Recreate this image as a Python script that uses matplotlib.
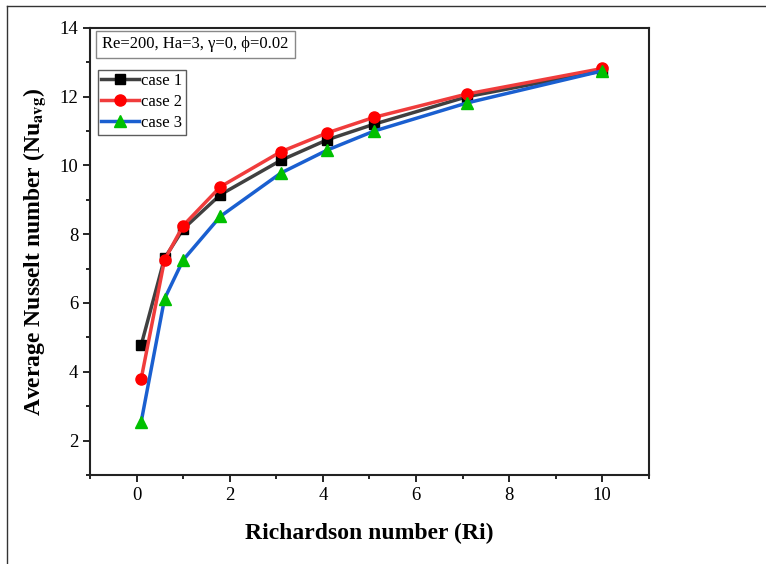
import matplotlib
matplotlib.use("Agg")
import matplotlib.pyplot as plt
from matplotlib.lines import Line2D
from matplotlib.ticker import MultipleLocator

plt.rcParams['font.family'] = ['Liberation Serif', 'DejaVu Serif']
plt.rcParams['mathtext.fontset'] = 'stix'

# Richardson number values
ri = [0.1, 0.6, 1.0, 1.8, 3.1, 4.1, 5.1, 7.1, 10.0]

# average Nusselt number per case
case1 = [4.78, 7.30, 8.15, 9.15, 10.15, 10.75, 11.20, 12.00, 12.75]
case2 = [3.80, 7.25, 8.25, 9.38, 10.40, 10.95, 11.40, 12.08, 12.82]
case3 = [2.55, 6.12, 7.25, 8.52, 9.78, 10.45, 11.00, 11.82, 12.75]

labels = ['case 1', 'case 2', 'case 3']
info_text = 'Re=200, Ha=3, \u03b3=0, \u03d5=0.02'

fig = plt.figure(figsize=(7.66, 5.64), dpi=100)
ax = fig.add_axes([0.1175, 0.158, 0.7295, 0.7925])

ax.plot(ri, case1, color='#404040', lw=2.5, marker='s', ms=7,
        mfc='black', mec='black', label=labels[0])
ax.plot(ri, case2, color='#f03c3c', lw=2.5, marker='o', ms=8,
        mfc='#ff0000', mec='#ff0000', label=labels[1])
ax.plot(ri, case3, color='#1a5fd0', lw=2.5, marker='^', ms=8,
        mfc='#00c000', mec='#00c000', label=labels[2])

ax.set_xlim(-1, 11)
ax.set_ylim(1, 14)
ax.xaxis.set_major_locator(MultipleLocator(2))
ax.xaxis.set_minor_locator(MultipleLocator(1))
ax.yaxis.set_major_locator(MultipleLocator(2))
ax.yaxis.set_minor_locator(MultipleLocator(1))
ax.tick_params(which='both', direction='out', top=False, right=False,
               width=1.2, labelsize=13.5)
ax.tick_params(which='major', length=5)
ax.tick_params(which='minor', length=3)
for sp in ax.spines.values():
    sp.set_linewidth(1.5)
    sp.set_color('#222222')

ax.set_xlabel('Richardson number (Ri)', fontsize=17, fontweight='bold', labelpad=14)
ax.set_ylabel(r'Average Nusselt number (Nu$_{\mathbf{avg}}$)', fontsize=17,
              fontweight='bold', labelpad=8)

ax.text(0.022, 0.981, info_text, transform=ax.transAxes, fontsize=12,
        ha='left', va='top',
        bbox=dict(boxstyle='square,pad=0.35', facecolor='white', edgecolor='#888888', lw=1))

leg = ax.legend(loc='upper left', bbox_to_anchor=(0.014, 0.906), fontsize=12,
                frameon=True, fancybox=False, edgecolor='#333333',
                handlelength=2.3, handletextpad=0.1, borderpad=0.2,
                labelspacing=0.3, borderaxespad=0)
leg.get_frame().set_linewidth(1)

# outer frame lines (top and left only)
fig.add_artist(Line2D([7 / 766, 1], [1 - 6 / 564, 1 - 6 / 564],
                      transform=fig.transFigure, color='#333333', lw=1))
fig.add_artist(Line2D([7 / 766, 7 / 766], [0, 1 - 6 / 564],
                      transform=fig.transFigure, color='#333333', lw=1))

fig.savefig('out.png', dpi=100)
